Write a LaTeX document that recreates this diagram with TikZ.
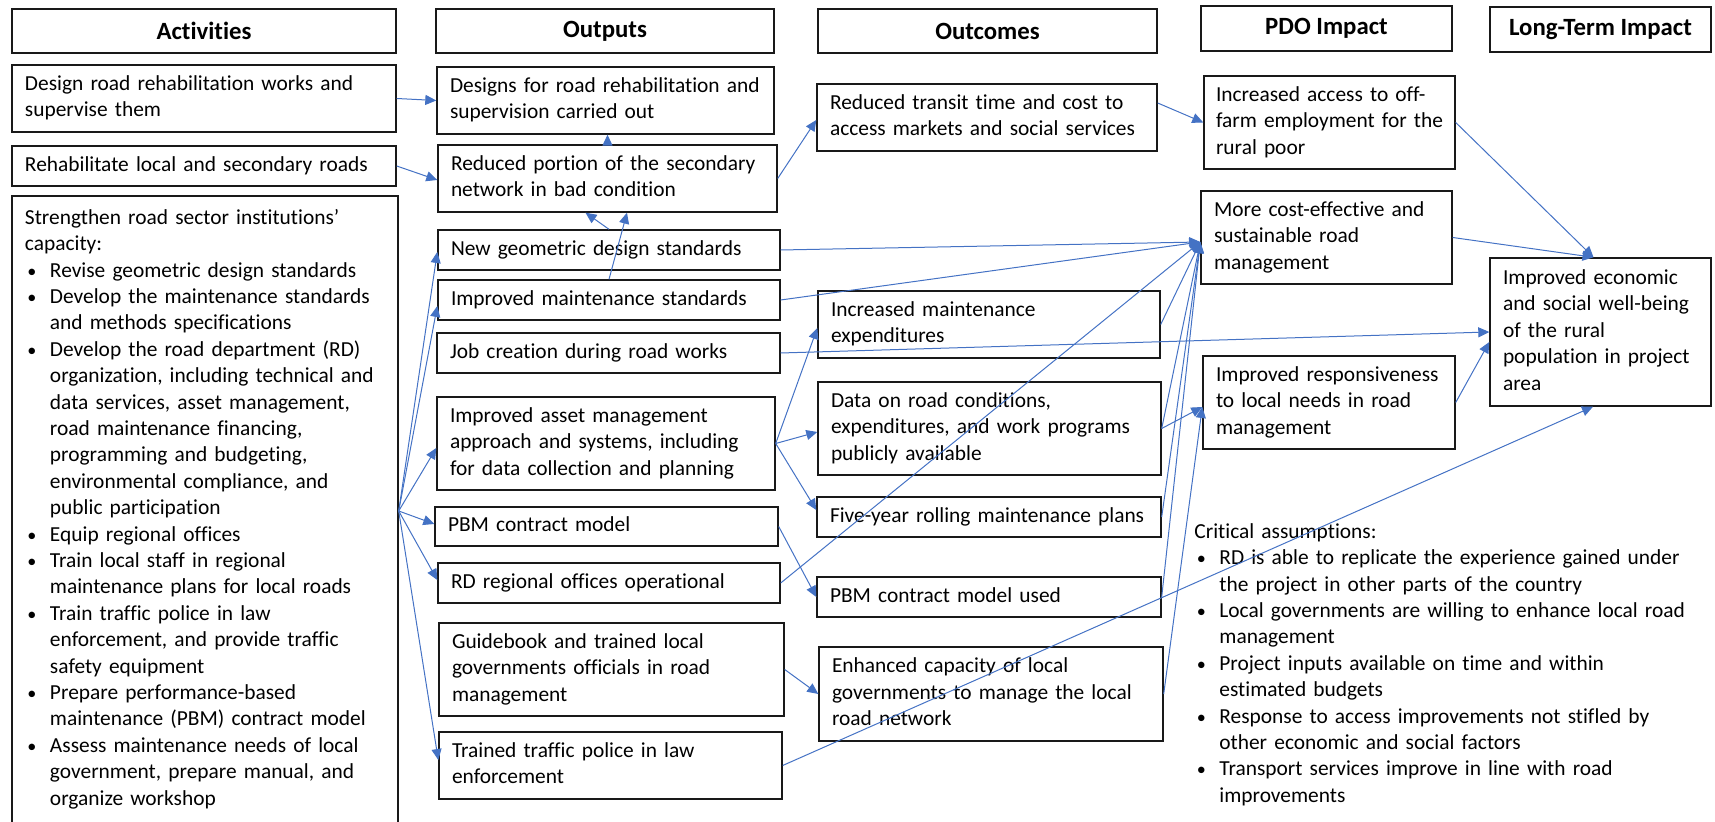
\documentclass[tikz,border=0pt]{standalone}
\usepackage{fontspec}
\setmainfont{Carlito}[Ligatures={NoCommon,TeX}]
\usetikzlibrary{arrows.meta}
\definecolor{arrowblue}{HTML}{4472C4}
\newcommand{\bodyfont}{\fontsize{10.7}{13.2}\selectfont\hyphenpenalty=10000\exhyphenpenalty=10000}
\newcommand{\hdrfont}{\fontsize{12.4}{14}\selectfont\bfseries}
\newcommand{\bul}{\makebox[12.5pt][l]{\hspace{1.2pt}\scalebox{0.85}{\textbullet}}}
\newcommand{\ind}{\hspace*{12.5pt}}
\begin{document}
\begin{tikzpicture}[x=0.5pt,y=-0.5pt,
  hdr/.style={draw=black!90, line width=0.7pt, inner sep=0pt, font=\hdrfont, minimum height=22pt},
  box/.style={draw=black!90, line width=0.7pt, inner xsep=6.5pt, inner ysep=0pt, align=left, font=\bodyfont,
    execute at begin node={\strut}, execute at end node={\strut}},
  plain/.style={inner sep=0pt, align=left, font=\bodyfont, anchor=north west, execute at begin node={\strut}},
  arr/.style={draw=arrowblue, line width=0.5pt, -{Triangle[length=5.5pt,width=5pt]}}]
\useasboundingbox (0,0) rectangle (1715,822);
% headers
\node[hdr, minimum width=192pt] (hA) at (204,31) {Activities};
\node[hdr, minimum width=169pt] (hO) at (605,31) {Outputs};
\node[hdr, minimum width=169.5pt] (hOc) at (987.5,31) {Outcomes};
\node[hdr, minimum width=125.5pt, minimum height=22.5pt] (hP) at (1326.5,28.5) {PDO Impact};
\node[hdr, minimum width=110.5pt, minimum height=22.5pt] (hL) at (1600.5,29.5) {Long-Term Impact};
% activities
\node[box, text width=179pt, minimum height=33.5pt] (a1) at (204,98.5) {Design road rehabilitation works and\\supervise them};
\node[box, text width=179pt, minimum height=20pt] (a2) at (204,166) {Rehabilitate local and secondary roads};
\node[box, text width=180pt, minimum height=313.5pt] (a3) at (205,509.5) {Strengthen road sector institutions’\\capacity:\\
\bul Revise geometric design standards\\
\bul Develop the maintenance standards\\\ind and methods specifications\\
\bul Develop the road department (RD)\\\ind organization, including technical and\\\ind data services, asset management,\\\ind road maintenance financing,\\\ind programming and budgeting,\\\ind environmental compliance, and\\\ind public participation\\
\bul Equip regional offices\\
\bul Train local staff in regional\\\ind maintenance plans for local roads\\
\bul Train traffic police in law\\\ind enforcement, and provide traffic\\\ind safety equipment\\
\bul Prepare performance-based\\\ind maintenance (PBM) contract model\\
\bul Assess maintenance needs of local\\\ind government, prepare manual, and\\\ind organize workshop};
% outputs
\node[box, text width=155.5pt, minimum height=33.5pt] (o1) at (605.5,100.5) {Designs for road rehabilitation and\\supervision carried out};
\node[box, text width=156.5pt, minimum height=33.5pt] (o2) at (607.5,178.5) {Reduced portion of the secondary\\network in bad condition};
\node[box, text width=158pt, minimum height=20pt] (o3) at (609,250) {New geometric design standards};
\node[box, text width=158pt, minimum height=20pt] (o4) at (609,300) {Improved maintenance standards};
\node[box, text width=158.5pt, minimum height=20pt] (o5) at (608.5,353) {Job creation during road works};
\node[box, text width=156pt, minimum height=46.5pt] (o6) at (606,443.5) {Improved asset management\\approach and systems, including\\for data collection and planning};
\node[box, text width=158.5pt, minimum height=19.5pt] (o7) at (606.5,526.5) {PBM contract model};
\node[box, text width=158pt, minimum height=20pt] (o8) at (609,583) {RD regional offices operational};
\node[box, text width=159.5pt, minimum height=46.5pt] (o9) at (611.5,669.5) {Guidebook and trained local\\governments officials in road\\management};
\node[box, text width=158.5pt, minimum height=33.5pt] (o10) at (610.5,765.5) {Trained traffic police in law\\enforcement};
% outcomes
\node[box, text width=157pt, minimum height=33.5pt] (c1) at (987,117.5) {Reduced transit time and cost to\\access markets and social services};
\node[box, text width=158pt, minimum height=33.5pt] (c2) at (989,324.5) {Increased maintenance\\expenditures};
\node[box, text width=158.5pt, minimum height=46.5pt] (c3) at (989.5,428.5) {Data on road conditions,\\expenditures, and work programs\\publicly available};
\node[box, text width=159pt, minimum height=20pt] (c4) at (989,517) {Five-year rolling maintenance plans};
\node[box, text width=159pt, minimum height=20pt] (c5) at (989,597) {PBM contract model used};
\node[box, text width=159pt, minimum height=47pt] (c6) at (991,694) {Enhanced capacity of local\\governments to manage the local\\road network};
% PDO impact
\node[box, inner xsep=5.5pt, text width=114.5pt, minimum height=46.5pt] (p1) at (1329.5,122.5) {\hspace*{0.5pt}Increased access to off-\\\hspace*{0.5pt}farm employment for the\\\hspace*{0.5pt}rural poor};
\node[box, text width=112.5pt, minimum height=46.5pt] (p2) at (1326.5,237.5) {More cost-effective and\\sustainable road\\management};
\node[box, text width=113pt, minimum height=46.5pt] (p3) at (1329,402.5) {Improved responsiveness\\to local needs in road\\management};
% long-term
\node[box, text width=97.5pt, minimum height=74pt] (l1) at (1600.5,332) {Improved economic\\and social well-being\\of the rural\\population in project\\area};
% critical assumptions
\node[plain, text width=255pt] (ca) at (1194,519.5) {Critical assumptions:\\
\bul RD is able to replicate the experience gained under\\\ind the project in other parts of the country\\
\bul Local governments are willing to enhance local road\\\ind management\\
\bul Project inputs available on time and within\\\ind estimated budgets\\
\bul Response to access improvements not stifled by\\\ind other economic and social factors\\
\bul Transport services improve in line with road\\\ind improvements};
% connectors
\draw[arr] (a1.east) -- (o1.west);
\draw[arr] (a2.east) -- ([yshift=-0.75pt]o2.west);
\draw[arr] (o2.north) -- (o2.north |- o1.south);
\draw[arr] (o3.north) -- ([xshift=-11pt]o2.south);
\draw[arr] (o4.north) -- ([xshift=9.75pt]o2.south);
\draw[arr] ([yshift=-0.75pt]a3.east) -- ([yshift=-1pt]o3.west);
\draw[arr] ([yshift=-0.75pt]a3.east) -- ([yshift=-3pt]o4.west);
\draw[arr] ([yshift=-0.75pt]a3.east) -- ([yshift=-2.25pt]o6.west);
\draw[arr] ([yshift=-0.75pt]a3.east) -- ([yshift=1.25pt]o7.west);
\draw[arr] ([yshift=-0.75pt]a3.east) -- ([yshift=1.5pt]o8.west);
\draw[arr] ([yshift=-0.75pt]a3.east) -- ([yshift=2.75pt]o10.west);
\draw[arr] (o2.east) -- ([yshift=-1.25pt]c1.west);
\draw[arr] ([yshift=7.25pt]c1.east) -- (p1.west);
\draw[arr] (p1.east) -- ([xshift=-3.5pt]l1.north);
\draw[arr] (p2.east) -- ([xshift=-3.5pt]l1.north);
\draw[arr] (o3.east) -- ([yshift=-2.25pt]p2.west);
\draw[arr] (o4.east) -- ([yshift=-2.25pt]p2.west);
\draw[arr] (c2.east) -- ([yshift=-2.25pt]p2.west);
\draw[arr] (c3.east) -- ([yshift=-2.25pt]p2.west);
\draw[arr] (c4.east) -- ([yshift=-2.25pt]p2.west);
\draw[arr] (c5.east) -- ([yshift=-2.25pt]p2.west);
\draw[arr] (o8.east) -- ([yshift=-2.25pt]p2.west);
\draw[arr] (o5.east) -- (l1.west);
\draw[arr] (p3.east) -- ([yshift=-5pt]l1.west);
\draw[arr] (o10.east) -- ([xshift=-3.75pt]l1.south);
\draw[arr] (o6.east) -- ([yshift=-1.75pt]c2.west);
\draw[arr] (o6.east) -- ([yshift=-1.75pt]c3.west);
\draw[arr] (o6.east) -- ([yshift=3.5pt]c4.west);
\draw[arr] (o7.east) -- (c5.west);
\draw[arr] (o9.east) -- (c6.west);
\draw[arr] (c3.east) -- ([yshift=-2.25pt]p3.west);
\draw[arr] (c6.east) -- ([yshift=-2.25pt]p3.west);
\end{tikzpicture}
\end{document}
